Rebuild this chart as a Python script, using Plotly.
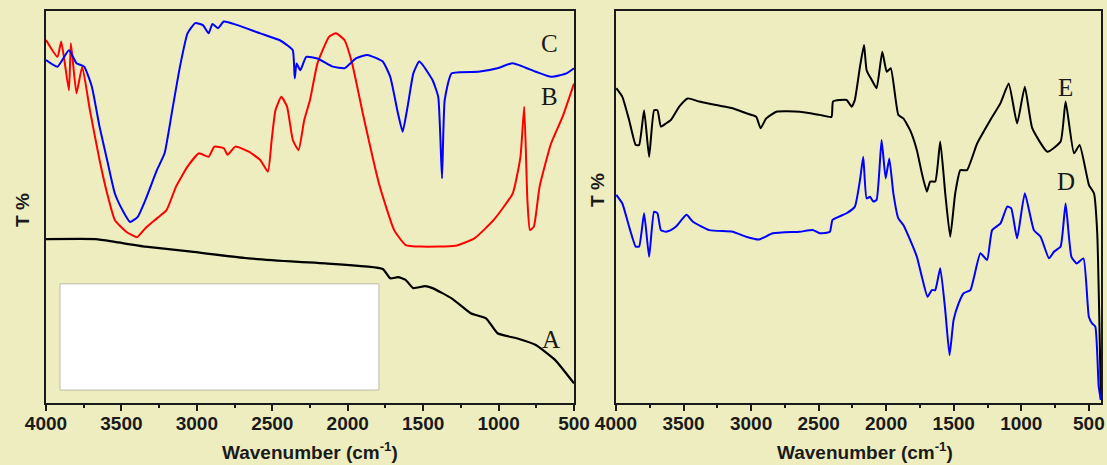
import plotly.graph_objects as go

# ---- FTIR spectra, left panel (4000-500 cm-1) ----
wn_A = [4000, 3670, 3544, 3341, 3037, 2656, 2326, 2148, 1768, 1718, 1667, 1616, 1565,
        1489, 1438, 1311, 1185, 1083, 1007, 880, 753, 626, 500]
t_A = [41.8, 41.8, 41.1, 39.9, 38.6, 36.9, 36.0, 35.6, 34.2, 31.8, 32.1, 31.4, 29.3,
       29.8, 29.3, 26.7, 22.9, 21.6, 17.8, 16.5, 14.8, 11.0, 5.0]

wn_B = [4000, 3924, 3899, 3848, 3835, 3798, 3760, 3709, 3645, 3595, 3544, 3468, 3397,
        3341, 3265, 3201, 3138, 3062, 2986, 2922, 2884, 2821, 2796, 2745, 2656, 2580,
        2529, 2504, 2479, 2440, 2402, 2364, 2326, 2288, 2250, 2200, 2124, 2078, 2022,
        1971, 1895, 1793, 1692, 1616, 1514, 1286, 1160, 1032, 906, 855, 830, 809, 792,
        766, 728, 652, 576, 500]
t_B = [92.6, 88.3, 92.2, 79.8, 91.8, 79.0, 85.8, 74.7, 62.0, 53.5, 46.7, 43.7, 42.3,
       44.6, 47.1, 49.2, 55.2, 60.3, 63.7, 62.8, 65.4, 65.0, 63.3, 65.4, 64.1, 62.0,
       59.0, 67.1, 74.7, 78.1, 75.6, 67.1, 64.5, 72.2, 77.3, 86.7, 93.4, 94.3, 92.6,
       86.7, 73.0, 56.0, 44.1, 40.3, 39.9, 40.1, 42.0, 46.7, 53.5, 62.8, 75.6, 51.8, 44.1,
       45.0, 55.2, 66.2, 73.0, 81.5]

wn_C = [4000, 3924, 3848, 3798, 3747, 3696, 3645, 3595, 3544, 3493, 3443, 3392, 3341,
        3265, 3214, 3163, 3112, 3062, 3011, 2960, 2922, 2897, 2860, 2821, 2732, 2580,
        2453, 2402, 2364, 2351, 2339, 2314, 2275, 2200, 2098, 2022, 1946, 1869, 1768,
        1718, 1667, 1636, 1603, 1565, 1527, 1502, 1438, 1400, 1375, 1357, 1311, 1134,
        1007, 906, 753, 652, 550, 500]
t_C = [87.5, 85.8, 90.0, 86.7, 85.8, 80.7, 70.5, 62.0, 53.5, 49.2, 46.2, 47.5, 51.8,
       59.4, 63.7, 74.7, 85.8, 94.3, 96.9, 96.4, 94.3, 96.7, 95.6, 97.3, 96.4, 94.3,
       92.6, 91.3, 90.0, 82.8, 86.6, 84.9, 88.3, 87.9, 85.8, 85.4, 87.9, 88.8, 87.1,
       83.2, 73.9, 69.2, 75.6, 84.1, 87.1, 86.2, 82.4, 78.1, 57.3, 77.3, 84.1, 84.5,
       85.4, 86.7, 84.5, 83.2, 84.1, 85.4]

# ---- FTIR spectra, right panel (4000-410 cm-1) ----
wn_D = [3998, 3953, 3903, 3854, 3829, 3792, 3755, 3718, 3693, 3668, 3631, 3594, 3556,
        3478, 3433, 3309, 3136, 3036, 2943, 2839, 2640, 2541, 2492, 2417, 2397, 2293,
        2232, 2194, 2170, 2145, 2120, 2095, 2071, 2034, 2004, 1977, 1947, 1910, 1873,
        1823, 1773, 1736, 1694, 1662, 1637, 1600, 1563, 1531, 1501, 1464, 1427, 1377,
        1303, 1253, 1216, 1154, 1104, 1075, 1031, 974, 907, 857, 795, 758, 709, 672,
        629, 590, 540, 500, 476, 452, 427, 411]
t_D = [53.1, 50.9, 45.0, 39.9, 39.9, 48.4, 37.3, 48.8, 48.4, 44.1, 43.7, 44.1, 45.0,
       48.0, 46.3, 44.1, 43.7, 42.4, 41.7, 43.3, 43.7, 44.1, 43.3, 43.7, 46.7, 48.4,
       50.1, 56.9, 62.8, 52.2, 52.6, 51.4, 51.8, 67.1, 57.3, 62.4, 53.5, 47.1, 45.4,
       41.6, 37.3, 32.2, 27.1, 28.8, 28.8, 34.4, 23.7, 12.2, 21.2, 25.4, 28.0, 28.8,
       38.2, 36.5, 44.1, 45.8, 50.1, 49.7, 42.0, 53.5, 44.1, 42.4, 36.9, 38.6, 39.9, 50.9,
       37.3, 35.6, 36.9, 22.0, 20.3, 19.5, 4.2, 0.8]

wn_E = [3998, 3953, 3903, 3854, 3829, 3792, 3755, 3718, 3693, 3668, 3631, 3594, 3532,
        3470, 3383, 3259, 3136, 3036, 2962, 2930, 2888, 2813, 2640, 2492, 2405, 2393,
        2293, 2256, 2232, 2194, 2164, 2145, 2107, 2071, 2029, 1996, 1966, 1910, 1873,
        1823, 1773, 1736, 1699, 1674, 1637, 1600, 1563, 1526, 1489, 1451, 1402, 1327,
        1229, 1154, 1093, 1031, 974, 919, 807, 709, 672, 610, 568, 499, 462, 438, 411]
t_E = [80.3, 78.1, 72.2, 65.8, 65.8, 74.7, 62.8, 74.7, 74.7, 70.5, 71.3, 72.2, 75.6,
       77.7, 76.9, 76.0, 75.2, 73.9, 73.0, 70.1, 72.6, 74.3, 74.3, 73.5, 73.0, 76.9,
       77.3, 75.6, 77.3, 85.8, 91.3, 84.9, 82.4, 80.3, 89.6, 84.5, 85.4, 73.5, 72.6,
       69.6, 64.5, 58.6, 53.9, 56.5, 56.5, 66.7, 53.5, 42.4, 53.5, 59.4, 59.4, 66.2,
       72.2, 76.5, 81.5, 71.3, 80.7, 70.1, 64.1, 66.7, 76.9, 63.7, 65.8, 55.6, 53.5, 43.4, 0.8]

# curve labels: (text, axis, wavenumber, T)
curve_labels = [("C", 1, 660, 91.8), ("B", 1, 660, 78.3), ("A", 1, 655, 16.1),
                ("E", 2, 672, 80.6), ("D", 2, 672, 56.6)]

BG = "#EDEDBF"
INK = "#1a1a1a"
TICK_FONT = dict(family="Arial, Liberation Sans, sans-serif", size=19, color=INK, weight="bold")
SMOOTH = 0.45

fig = go.Figure()
series = [(wn_A, t_A, "#000000", 2.2, "x", "y"),
          (wn_B, t_B, "#FF0000", 2.0, "x", "y"),
          (wn_C, t_C, "#0000FF", 2.0, "x", "y"),
          (wn_E, t_E, "#000000", 2.0, "x2", "y2"),
          (wn_D, t_D, "#0000FF", 2.0, "x2", "y2")]
for xs, ys, col, w, xa, ya in series:
    fig.add_trace(go.Scatter(x=xs, y=ys, mode="lines",
                             line=dict(color=col, width=w, shape="spline", smoothing=SMOOTH),
                             xaxis=xa, yaxis=ya, showlegend=False))

xcommon = dict(showline=True, linecolor=INK, linewidth=2, mirror=True, ticks="outside",
               ticklen=6, tickwidth=2, tickcolor=INK, tickfont=TICK_FONT, showgrid=False,
               zeroline=False, dtick=500, automargin=False, ticklabelstandoff=-4,
               minor=dict(ticks="outside", ticklen=3, tickwidth=1.5, tickcolor=INK, dtick=250))
ycommon = dict(showline=True, linecolor=INK, linewidth=2, mirror=True, showticklabels=False,
               ticks="", showgrid=False, zeroline=False, range=[0, 100], automargin=False)

fig.update_layout(
    width=1107, height=465, margin=dict(l=0, r=0, t=0, b=0, autoexpand=False),
    paper_bgcolor=BG, plot_bgcolor=BG,
    xaxis=dict(xcommon, domain=[46 / 1107, 574 / 1107], range=[4000, 500], anchor="y"),
    yaxis=dict(ycommon, domain=[62 / 465, 454 / 465], anchor="x"),
    xaxis2=dict(xcommon, domain=[616 / 1107, 1101 / 1107], range=[4000, 410], anchor="y2"),
    yaxis2=dict(ycommon, domain=[62 / 465, 454 / 465], anchor="x2"),
)

# blank inset box in the lower left of the first panel
fig.add_shape(type="rect", xref="x", yref="y", x0=3907, x1=1793, y0=3.3, y1=30.4,
              fillcolor="#FFFFFF", line=dict(color="#BBBBAA", width=1), layer="above")

for txt, ax, xv, yv in curve_labels:
    sfx = "" if ax == 1 else "2"
    fig.add_annotation(x=xv, y=yv, xref="x" + sfx, yref="y" + sfx, text=txt, showarrow=False,
                       xanchor="center", yanchor="middle",
                       font=dict(family="Liberation Serif, Times New Roman, serif", size=25,
                                 color=INK))

# axis titles
for xp in [310 / 1107, 865 / 1107]:
    fig.add_annotation(x=xp, y=1 - 451 / 465, xref="paper", yref="paper",
                       xanchor="center", yanchor="middle",
                       text="Wavenumber (cm<sup>-1</sup>)", showarrow=False, font=TICK_FONT)
for xp, yp in [(22 / 1107, 1 - 210 / 465), (597 / 1107, 1 - 190 / 465)]:
    fig.add_annotation(x=xp, y=yp, xref="paper", yref="paper", text="T %", textangle=-90,
                       xanchor="center", yanchor="middle", showarrow=False, font=TICK_FONT)

fig.write_html("out.html")
